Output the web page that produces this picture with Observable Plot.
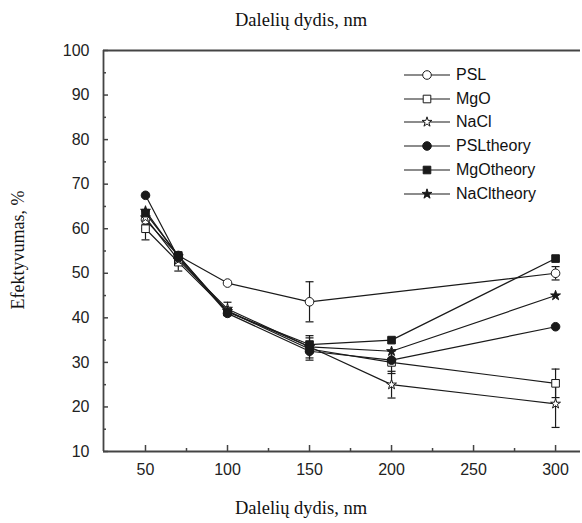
<!DOCTYPE html>
<html><head><meta charset="utf-8">
<script src="https://cdn.jsdelivr.net/npm/d3@7"></script>
<script src="https://cdn.jsdelivr.net/npm/@observablehq/plot@0.6"></script>
<style>
body{margin:0;background:#fff;}
#wrap{position:relative;width:582px;height:523px;overflow:hidden;}
.cap{position:absolute;left:0;width:582px;text-align:center;font-family:"Liberation Serif","Times New Roman",serif;font-size:18.5px;color:#111;padding-left:20px;box-sizing:border-box;}
#ylab{position:absolute;left:18px;top:250px;transform:translate(-50%,-50%) rotate(-90deg);white-space:nowrap;font-family:"Liberation Serif","Times New Roman",serif;font-size:18px;color:#111;}
#chart{position:absolute;left:0;top:40px;}
#legend{position:absolute;left:402px;top:63px;font-family:"Liberation Sans",Arial,sans-serif;font-size:16px;color:#111;}
#legend .row{display:flex;align-items:center;height:23.8px;}
#legend svg{margin-right:4px;}
</style></head>
<body>
<div id="wrap">
  <div class="cap" style="top:0;height:40px;line-height:40px;">Dalelių dydis, nm</div>
  <div id="ylab">Efektyvumas, %</div>
  <div id="chart"></div>
  <div id="legend"></div>
  <div class="cap" style="top:495px;height:26px;line-height:26px;">Dalelių dydis, nm</div>
</div>
<script>
// ---- data ----
const sizes = [50, 70, 100, 150, 200, 300];
const PSL        = [62,   54,   47.8, 43.6, null, 50];
const PSL_err    = [2,    0,    0,    4.5,  0,    1.5];
const MgO        = [60,   52.5, 41.5, 33,   30,   25.3];
const MgO_err    = [2.5,  2,    0,    2.5,  2.5,  3.2];
const NaCl       = [62.5, 53,   42,   33.5, 25,   20.7];
const NaCl_err   = [1.5,  0,    1.5,  2.5,  3,    5.3];
const PSLtheory  = [67.5, 53.5, 41,   32.5, 30.5, 38];
const MgOtheory  = [63.5, 54,   41.3, 34,   35,   53.3];
const NaCltheory = [64,   53.8, 41.5, 33.5, 32.5, 45];

const seriesNames = ["PSL", "MgO", "NaCl", "PSLtheory", "MgOtheory", "NaCltheory"];
const seriesValues = [PSL, MgO, NaCl, PSLtheory, MgOtheory, NaCltheory];
const seriesErrors = [PSL_err, MgO_err, NaCl_err, null, null, null];
const seriesSymbols = ["circle", "square", "star", "circle", "square", "star"];
const seriesOpen = [true, true, true, false, false, false];

const xMajor = [50, 100, 150, 200, 250, 300];
const xMinor = [75, 125, 175, 225, 275];
const yMajor = [10, 20, 30, 40, 50, 60, 70, 80, 90, 100];
const yMinor = [15, 25, 35, 45, 55, 65, 75, 85, 95];
const xDomain = [24.4, 315.2];
const yDomain = [10, 100];

// ---- build tables ----
const rows = [];
const errs = [];
seriesNames.forEach((name, i) => {
  sizes.forEach((s, j) => {
    const v = seriesValues[i][j];
    if (v == null) return;
    rows.push({series: name, size: s, value: v});
    const e = seriesErrors[i] ? seriesErrors[i][j] : 0;
    if (e > 0) errs.push({series: name, size: s, lo: v - e, hi: v + e});
  });
});

const capSymbol = {draw(ctx, size) { const w = Math.sqrt(size / Math.PI); ctx.moveTo(-w, 0); ctx.lineTo(w, 0); }};
const symMap = {circle: d3.symbolCircle, square: d3.symbolSquare, star: d3.symbolStar};
const rFor = s => s === "circle" ? 4.3 : s === "square" ? 4.3 : 3.1;

const lineColor = "#1a1a1a";
const axisColor = "#444";

const marks = [
  Plot.ruleY([yDomain[1]], {stroke: axisColor, strokeWidth: 1.8}),
  Plot.ruleY([yDomain[0]], {stroke: axisColor, strokeWidth: 1.8}),
  Plot.ruleX([xDomain[0]], {stroke: axisColor, strokeWidth: 1.8}),
  Plot.axisX(xMajor, {anchor: "bottom", tickSize: -6, tickPadding: 18, label: null, stroke: axisColor, strokeWidth: 1.5, fontSize: 16, fill: "#222"}),
  Plot.axisX(xMinor, {anchor: "bottom", tickSize: -3, tickFormat: () => "", label: null, stroke: axisColor, strokeWidth: 1.5}),
  Plot.axisY(yMajor, {anchor: "left", tickSize: -5, tickPadding: 19, label: null, stroke: axisColor, strokeWidth: 1.5, fontSize: 16, fill: "#222"}),
  Plot.axisY(yMinor, {anchor: "left", tickSize: -3, tickFormat: () => "", label: null, stroke: axisColor, strokeWidth: 1.5}),
  Plot.line(rows, {x: "size", y: "value", z: "series", stroke: lineColor, strokeWidth: 1.2}),
  Plot.ruleX(errs, {x: "size", y1: "lo", y2: "hi", stroke: lineColor, strokeWidth: 1.2}),
  Plot.dot(errs, {x: "size", y: "lo", symbol: capSymbol, r: 4, stroke: lineColor, strokeWidth: 1.2}),
  Plot.dot(errs, {x: "size", y: "hi", symbol: capSymbol, r: 4, stroke: lineColor, strokeWidth: 1.2})
];
seriesNames.forEach((name, i) => {
  const sym = seriesSymbols[i];
  marks.push(Plot.dot(rows.filter(d => d.series === name), {
    x: "size", y: "value", symbol: symMap[sym], r: rFor(sym),
    fill: seriesOpen[i] ? "white" : lineColor, stroke: lineColor, strokeWidth: 1
  }));
});

const chart = Plot.plot({
  width: 582, height: 450,
  marginTop: 10, marginBottom: 39, marginLeft: 103, marginRight: 2,
  x: {domain: xDomain},
  y: {domain: yDomain},
  style: {fontFamily: "'Liberation Sans', Arial, sans-serif", fontSize: "16px", color: "#222", background: "transparent", overflow: "visible"},
  marks
});
document.getElementById("chart").appendChild(chart);

// ---- legend ----
const legend = document.getElementById("legend");
seriesNames.forEach((name, i) => {
  const sym = seriesSymbols[i];
  const r = rFor(sym);
  const path = d3.symbol(symMap[sym], Math.PI * r * r)();
  const row = document.createElement("div");
  row.className = "row";
  row.innerHTML = `<svg width="50" height="20"><line x1="2" x2="48" y1="10" y2="10" stroke="${lineColor}" stroke-width="1.2"/>` +
    `<path d="${path}" transform="translate(25,10)" fill="${seriesOpen[i] ? "white" : lineColor}" stroke="${lineColor}" stroke-width="1"/></svg><span>${name}</span>`;
  legend.appendChild(row);
});
</script>
</body></html>
